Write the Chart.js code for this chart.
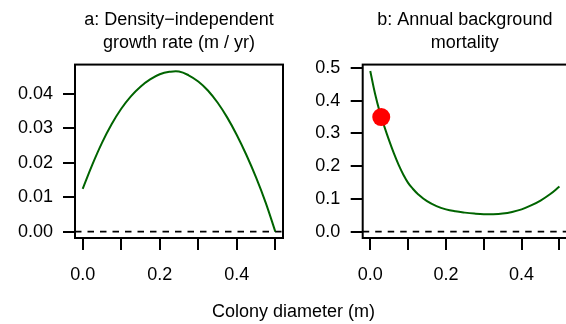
<!DOCTYPE html>
<html><head><meta charset="utf-8">
<script src="https://cdn.jsdelivr.net/npm/chart.js@4"></script>
<style>
html,body{margin:0;padding:0;background:#fff;}
#wrap{position:relative;width:566px;height:324px;overflow:hidden;background:#fff;}
#ca{position:absolute;left:0;top:0;}
#cb{position:absolute;left:290px;top:0;}
#xlab{position:absolute;left:0;width:587px;top:302px;text-align:center;font-family:'Liberation Sans',Arial,sans-serif;font-size:18px;line-height:18px;color:#000;white-space:nowrap;}
</style></head>
<body>
<div id="wrap">
<canvas id="ca" width="290" height="324"></canvas>
<canvas id="cb" width="286" height="324"></canvas>
<div id="xlab">Colony diameter (m)</div>
</div>
<script>
// ---- data ----
const titleA = ['a: Density\u2212independent', 'growth rate (m / yr)'];
const titleB = ['b: Annual background', 'mortality'];
const xLabel = 'Colony diameter (m)';

const growthX = [0, 0.025, 0.05, 0.075, 0.1, 0.125, 0.15, 0.175, 0.2, 0.225, 0.25, 0.275, 0.3, 0.325, 0.35, 0.375, 0.4, 0.425, 0.45, 0.475, 0.5];
const growthY = [0.0124, 0.0194, 0.0257, 0.0311, 0.0356, 0.0392, 0.0420, 0.0441, 0.0456, 0.0463, 0.0464, 0.0453, 0.0435, 0.0409, 0.0374, 0.0331, 0.0280, 0.0222, 0.0157, 0.0084, 0.0];

const mortX = [0, 0.0125, 0.025, 0.0375, 0.05, 0.0625, 0.075, 0.0875, 0.1, 0.1125, 0.125, 0.15, 0.175, 0.2, 0.225, 0.25, 0.275, 0.3, 0.325, 0.35, 0.375, 0.4, 0.425, 0.45, 0.475, 0.5];
const mortY = [0.491, 0.422, 0.366, 0.320, 0.278, 0.239, 0.204, 0.174, 0.149, 0.131, 0.116, 0.093, 0.078, 0.068, 0.062, 0.058, 0.055, 0.053, 0.053, 0.055, 0.060, 0.068, 0.080, 0.095, 0.114, 0.138];

const markerX = [0.029];
const markerY = [0.35];

const xTicks = [0, 0.1, 0.2, 0.3, 0.4, 0.5];
const xTickLabels = ['0.0', '', '0.2', '', '0.4', ''];
const growthTicks = [0, 0.01, 0.02, 0.03, 0.04];
const growthTickLabels = ['0.00', '0.01', '0.02', '0.03', '0.04'];
const mortTicks = [0, 0.1, 0.2, 0.3, 0.4, 0.5];
const mortTickLabels = ['0.0', '0.1', '0.2', '0.3', '0.4', '0.5'];
const referenceLevel = 0;

// ---- chart setup ----
Chart.defaults.font.family = "'Liberation Sans', Arial, Helvetica, sans-serif";
Chart.defaults.font.size = 18;
Chart.defaults.color = '#000';

const toPts = (xs, ys) => xs.map((x, i) => ({x: x, y: ys[i]}));

const framePlugin = {
  id: 'frame',
  beforeDatasetsDraw(chart) {
    const {ctx, chartArea: a, scales} = chart;
    const y = scales.y.getPixelForValue(referenceLevel);
    ctx.save();
    ctx.beginPath();
    ctx.rect(a.left, a.top, a.right - a.left, a.bottom - a.top);
    ctx.clip();
    ctx.strokeStyle = '#000';
    ctx.lineWidth = 1.8;
    ctx.setLineDash([6.5, 6]);
    ctx.beginPath();
    ctx.moveTo(a.left, y);
    ctx.lineTo(a.right, y);
    ctx.stroke();
    ctx.restore();
  },
  afterDraw(chart) {
    const {ctx, chartArea: a} = chart;
    ctx.save();
    ctx.strokeStyle = '#000';
    ctx.lineWidth = 2;
    ctx.strokeRect(a.left, a.top, a.right - a.left, a.bottom - a.top);
    ctx.restore();
  }
};

function makeScales(yTicks, yLabels, yMin, yMax, yWidth, yPad) {
  return {
    x: {
      type: 'linear', min: -0.02, max: 0.52,
      afterBuildTicks: s => { s.ticks = xTicks.map(v => ({value: v})); },
      afterFit: s => { s.height = 86; },
      ticks: {autoSkip: false, maxRotation: 0, minRotation: 0, padding: 14.4,
        callback: (v, i) => xTickLabels[i]},
      grid: {drawOnChartArea: false, drawTicks: true, tickLength: 12, color: '#000', lineWidth: 2},
      border: {display: false}
    },
    y: {
      type: 'linear', min: yMin, max: yMax,
      afterBuildTicks: s => { s.ticks = yTicks.map(v => ({value: v})); },
      afterFit: s => { s.width = yWidth; },
      ticks: {autoSkip: false, padding: yPad, callback: (v, i) => yLabels[i]},
      grid: {drawOnChartArea: false, drawTicks: true, tickLength: 12, color: '#000', lineWidth: 2},
      border: {display: false}
    }
  };
}

function titleOpts(text) {
  return {display: true, text: text, fullSize: false, color: '#000',
    padding: {top: 8.5, bottom: 10},
    font: {size: 18, weight: 'normal', lineHeight: 1.28}};
}

new Chart(document.getElementById('ca'), {
  type: 'line',
  data: {datasets: [{
    data: toPts(growthX, growthY), borderColor: '#006400', borderWidth: 2,
    pointRadius: 0, fill: false, tension: 0.4
  }]},
  options: {
    responsive: false, animation: false, devicePixelRatio: 1,
    layout: {padding: {left: 0, right: 7, top: 0, bottom: 0}},
    plugins: {legend: {display: false}, tooltip: {enabled: false}, title: titleOpts(titleA)},
    scales: makeScales(growthTicks, growthTickLabels, -0.00186, 0.0484, 75, 10)
  },
  plugins: [framePlugin]
});

new Chart(document.getElementById('cb'), {
  type: 'line',
  data: {datasets: [
    {type: 'scatter', data: toPts(markerX, markerY), pointRadius: 9, pointHoverRadius: 9,
     backgroundColor: '#ff0000', borderWidth: 0, showLine: false},
    {data: toPts(mortX, mortY), borderColor: '#006400', borderWidth: 2,
     pointRadius: 0, fill: false, tension: 0.4}
  ]},
  options: {
    responsive: false, animation: false, devicePixelRatio: 1,
    layout: {padding: {left: 0, right: 5.4, top: 0, bottom: 0}},
    plugins: {legend: {display: false}, tooltip: {enabled: false}, title: titleOpts(titleB)},
    scales: makeScales(mortTicks, mortTickLabels, -0.0196, 0.5106, 72.7, 10.5)
  },
  plugins: [framePlugin]
});
document.getElementById('xlab').textContent = xLabel;
</script>
</body></html>
